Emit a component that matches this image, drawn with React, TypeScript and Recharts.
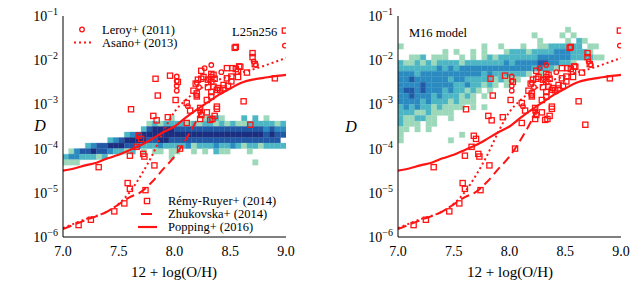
import React from "react";
import { ComposedChart, XAxis, YAxis, Scatter, Line, ReferenceArea } from "recharts";

const FONT = "Liberation Serif, DejaVu Serif, serif";
const RED = "#ff1414";

// axes: x = 12 + log(O/H), y = log10(D)
const xTicks = [7.0, 7.5, 8.0, 8.5, 9.0];
const yTicks = [-6, -5, -4, -3, -2, -1];
const yMinorTicks: number[] = [];
for (let n = -6; n < -1; n++) for (let k = 2; k <= 9; k++) yMinorTicks.push(n + Math.log10(k));

// Rémy-Ruyer+ (2014) [12+log(O/H), log D]
const remyRuyer = [
  [7.14, -5.73], [7.25, -5.61], [7.46, -5.42], [7.55, -5.24], [7.58, -4.78], [7.6, -4.91],
  [7.74, -4.94], [7.32, -4.42], [7.6, -4.16], [7.72, -4.12], [7.73, -4.18], [7.82, -4.38],
  [8.05, -4.0], [7.66, -3.96], [7.68, -3.71], [7.7, -3.78], [7.61, -3.11], [7.81, -3.26],
  [7.84, -3.36], [7.94, -3.29], [8.11, -3.42], [8.68, -3.46], [8.62, -2.93], [8.11, -2.97],
  [8.14, -3.14], [8.23, -3.08], [8.24, -3.24], [8.23, -3.33], [8.29, -3.18], [8.32, -3.35],
  [8.34, -3.33], [8.36, -3.26], [8.38, -3.1], [7.83, -2.42], [7.96, -2.35], [8.03, -2.49],
  [7.85, -2.8], [8.01, -2.9], [8.17, -2.69], [8.2, -2.82], [8.21, -2.44], [8.24, -2.42],
  [8.24, -2.24], [8.33, -2.31], [8.33, -2.38], [8.3, -2.44], [8.36, -2.42], [8.35, -2.6],
  [8.39, -2.63], [8.44, -2.56], [8.48, -2.58], [8.51, -2.48], [8.47, -2.41], [8.51, -2.37],
  [8.55, -2.2], [8.52, -2.18], [8.57, -2.26], [8.57, -2.38], [8.58, -2.14], [8.47, -2.18],
  [8.54, -1.72], [8.55, -1.7], [8.7, -1.84], [8.7, -1.93], [8.65, -2.28], [8.9, -2.41],
  [8.2, -2.75], [8.33, -2.82], [8.29, -2.9], [8.33, -2.72], [8.38, -2.67], [8.3, -2.61],
  [8.38, -3.05], [8.99, -1.33], [8.19, -2.53], [8.26, -2.38], [8.35, -2.33], [8.33, -2.49],
  [8.41, -2.68], [8.44, -2.64], [8.59, -2.15], [8.72, -2.09],
].map(([x, y]) => ({ x, y }));

// Leroy+ (2011)
const leroy = [
  [8.02, -2.37], [8.02, -2.47], [8.02, -2.58], [8.02, -2.69], [8.12, -3.04], [8.2, -2.51],
  [8.22, -2.61], [8.2, -2.8], [8.27, -2.18], [8.33, -2.11], [8.42, -2.27], [8.31, -2.43],
  [8.71, -2.03], [8.73, -2.11], [8.99, -1.67], [8.23, -3.17],
].map(([x, y]) => ({ x, y }));

const asano = [
  [7.0, -5.8], [7.2, -5.6], [7.4, -5.42], [7.5, -5.25], [7.6, -4.98], [7.7, -4.6], [7.8, -4.15],
  [7.9, -3.62], [8.0, -3.17], [8.1, -2.9], [8.2, -2.7], [8.3, -2.55], [8.4, -2.44], [8.5, -2.36],
  [8.6, -2.28], [8.7, -2.21], [8.8, -2.13], [8.9, -2.04], [9.0, -1.95],
].map(([x, y]) => ({ x, y }));

const zhukovska = [
  [7.0, -5.82], [7.2, -5.62], [7.4, -5.42], [7.5, -5.26], [7.6, -5.1], [7.7, -4.98], [7.8, -4.75],
  [7.9, -4.46], [8.0, -4.18], [8.1, -3.8], [8.2, -3.35], [8.25, -3.08],
].map(([x, y]) => ({ x, y }));

const popping = [
  [7.0, -4.5], [7.1, -4.45], [7.2, -4.38], [7.3, -4.32], [7.4, -4.22], [7.5, -4.14], [7.6, -4.03],
  [7.7, -3.92], [7.8, -3.78], [7.9, -3.63], [8.0, -3.5], [8.1, -3.3], [8.2, -3.12], [8.3, -2.95],
  [8.4, -2.78], [8.5, -2.64], [8.6, -2.51], [8.7, -2.44], [8.8, -2.4], [8.9, -2.36], [9.0, -2.33],
].map(([x, y]) => ({ x, y }));

// 2D histograms: 40 bins of 0.05 in x, bins of 0.125 dex in D (row 0 starts at D = 0.1)
const X_BIN = 0.05;
const Y_BIN = 0.125;
const heatColors = ["", "#9dd8bb", "#4db6c5", "#2b8bc1", "#2259a6", "#1c2e80"];

const l25TopRow = 18;
const l25Rows = [
  "...................1.....1221...2.2.1...",
  "...............1212222121221212112222212",
  "..............24555544444444444444443433",
  "...........23455555555555555555555554544",
  "........2345555445544444444444444444444",
  "....234455544322232222312223223212212222",
  ".134454432212.1.11.11..1.1.211...1......",
  "23322212...........1",
  "111...............................1",
];

const m16TopRow = 2;
const m16Rows = [
  "..............................1",
  "........................1....1.1",
  ".........................1....1.21",
  "1..............1..1...1..11222222.11",
  "........1.1..1.1...1222122223332221",
  "..112.111..1.1.1212222222333333222211",
  "21121212222122222223233334433221",
  "22222223232333333333333323221",
  "333233333333333232222221.1",
  "3343333332332222212111",
  "333343333322322121.1",
  "344343332322121.1",
  "33433323222121.1",
  "33332322212111",
  "232322121111.1.1",
  "2221121111",
  "2112211..1",
  "2111.11",
  "11.1.1",
  "1..........1",
  "1........1",
];

function toCells(rows: string[], top: number) {
  const out: { x1: number; x2: number; y1: number; y2: number; level: number }[] = [];
  rows.forEach((row, i) => {
    const k = top + i;
    row.slice(0, 40).split("").forEach((ch, c) => {
      if (ch === ".") return;
      out.push({
        x1: 7 + c * X_BIN,
        x2: 7 + (c + 1) * X_BIN,
        y1: -1 - (k + 1) * Y_BIN,
        y2: -1 - k * Y_BIN,
        level: Number(ch),
      });
    });
  });
  return out;
}

const XTick = (p: any) => (
  <text x={p.x} y={p.y} dy="0.71em" textAnchor="middle" fontFamily={FONT} fontSize={14} fill="#000">
    {p.payload.value.toFixed(1)}
  </text>
);

const YTick = (p: any) => (
  <text x={p.x} y={p.y} dy="0.35em" textAnchor="end" fontFamily={FONT} fontSize={14} fill="#000">
    10
    <tspan dy={-6} fontSize={10}>
      {"\u2212" + Math.abs(p.payload.value)}
    </tspan>
  </text>
);

const square = (p: any) => (
  <rect x={p.cx - 2.6} y={p.cy - 2.6} width={5.2} height={5.2} fill="none" stroke={RED} strokeWidth={1.3} />
);
const circle = (p: any) => <circle cx={p.cx} cy={p.cy} r={2.3} fill="none" stroke={RED} strokeWidth={1.3} />;

function Panel({ left, axisW, rightM, rows, top }: { left: number; axisW: number; rightM: number; rows: string[]; top: number }) {
  const cells = toCells(rows, top);
  const tickStroke = { stroke: "#000", strokeWidth: 0.8 };
  return (
    <div style={{ position: "absolute", left, top: 0 }}>
      <ComposedChart width={320} height={289} margin={{ top: 16, right: rightM, bottom: 0, left: 0 }}>
        <XAxis xAxisId="x" type="number" dataKey="x" domain={[7, 9]} ticks={xTicks} interval={0} allowDataOverflow
          height={52} tickLine={false} tickSize={0} tickMargin={9} axisLine={{ stroke: "#000" }} tick={XTick} />
        <XAxis xAxisId="xb" type="number" domain={[7, 9]} ticks={xTicks} interval={0} allowDataOverflow mirror
          height={0} tick={false} tickSize={4} axisLine={false} tickLine={tickStroke} />
        <XAxis xAxisId="xt" orientation="top" type="number" domain={[7, 9]} ticks={xTicks} interval={0} allowDataOverflow mirror
          height={0} tick={false} tickSize={4} axisLine={{ stroke: "#000" }} tickLine={tickStroke} />
        <YAxis yAxisId="y" type="number" dataKey="y" domain={[-6, -1]} ticks={yTicks} interval={0} allowDataOverflow
          width={axisW} tickLine={false} tickSize={0} tickMargin={5} axisLine={{ stroke: "#000" }} tick={YTick} />
        <YAxis yAxisId="yl" type="number" domain={[-6, -1]} ticks={yTicks} interval={0} allowDataOverflow mirror
          width={0} tick={false} tickSize={4} axisLine={false} tickLine={tickStroke} />
        <YAxis yAxisId="ylm" type="number" domain={[-6, -1]} ticks={yMinorTicks} interval={0} allowDataOverflow mirror
          width={0} tick={false} tickSize={2} axisLine={false} tickLine={tickStroke} />
        <YAxis yAxisId="yr" orientation="right" type="number" domain={[-6, -1]} ticks={yTicks} interval={0} allowDataOverflow mirror
          width={0} tick={false} tickSize={4} axisLine={{ stroke: "#000" }} tickLine={tickStroke} />
        <YAxis yAxisId="yrm" orientation="right" type="number" domain={[-6, -1]} ticks={yMinorTicks} interval={0} allowDataOverflow mirror
          width={0} tick={false} tickSize={2} axisLine={false} tickLine={tickStroke} />
        {cells.map((c, i) => (
          <ReferenceArea key={i} xAxisId="x" yAxisId="y" x1={c.x1} x2={c.x2} y1={c.y1} y2={c.y2}
            fill={heatColors[c.level]} fillOpacity={1} stroke={heatColors[c.level]} strokeWidth={0.3} ifOverflow="hidden" />
        ))}
        <Line data={asano} xAxisId="x" yAxisId="y" dataKey="y" type="monotone" stroke={RED} strokeWidth={2}
          strokeDasharray="2 3" dot={false} isAnimationActive={false} />
        <Line data={zhukovska} xAxisId="x" yAxisId="y" dataKey="y" type="monotone" stroke={RED} strokeWidth={2}
          strokeDasharray="9 5" dot={false} isAnimationActive={false} />
        <Line data={popping} xAxisId="x" yAxisId="y" dataKey="y" type="monotone" stroke={RED} strokeWidth={2.2}
          dot={false} isAnimationActive={false} />
        <Scatter data={remyRuyer} xAxisId="x" yAxisId="y" dataKey="y" shape={square} isAnimationActive={false} />
        <Scatter data={leroy} xAxisId="x" yAxisId="y" dataKey="y" shape={circle} isAnimationActive={false} />
      </ComposedChart>
    </div>
  );
}

const Txt = ({ x, y, children, size = 12.5, center = false, italic = false }: any) => (
  <div style={{
    position: "absolute", left: x, top: y - 6, height: 12, lineHeight: "12px", fontSize: size, fontFamily: FONT,
    whiteSpace: "nowrap", color: "#000", fontStyle: italic ? "italic" : "normal",
    transform: center ? "translateX(-50%)" : undefined,
  }}>{children}</div>
);

export default function App() {
  return (
    <div style={{ position: "absolute", left: 0, top: 0, width: 640, height: 289, background: "#fff", overflow: "hidden" }}>
      <Panel left={0} axisW={63} rightM={34} rows={l25Rows} top={l25TopRow} />
      <Panel left={320} axisW={78} rightM={19} rows={m16Rows} top={m16TopRow} />

      <svg width={640} height={289} style={{ position: "absolute", left: 0, top: 0, pointerEvents: "none" }}>
        <circle cx={82} cy={29.5} r={2.3} fill="none" stroke={RED} strokeWidth={1.3} />
        <line x1={74} y1={42.5} x2={93} y2={42.5} stroke={RED} strokeWidth={2} strokeDasharray="2 3" />
        <rect x={144.4} y={198.4} width={5.2} height={5.2} fill="none" stroke={RED} strokeWidth={1.3} />
        <line x1={141} y1={214} x2={152} y2={214} stroke={RED} strokeWidth={2} />
        <line x1={138} y1={227} x2={157} y2={227} stroke={RED} strokeWidth={2.2} />
      </svg>

      <Txt x={102} y={29.5}>Leroy+ (2011)</Txt>
      <Txt x={102} y={42.5}>Asano+ (2013)</Txt>
      <Txt x={232} y={32}>L25n256</Txt>
      <Txt x={168} y={201}>Rémy-Ruyer+ (2014)</Txt>
      <Txt x={168} y={214}>Zhukovska+ (2014)</Txt>
      <Txt x={168} y={227}>Popping+ (2016)</Txt>
      <Txt x={409} y={33}>M16 model</Txt>

      <Txt x={40} y={126} size={16} center italic>D</Txt>
      <Txt x={351} y={127} size={16} center italic>D</Txt>
      <Txt x={174} y={272} size={15} center>12 + log(O/H)</Txt>
      <Txt x={510} y={272} size={15} center>12 + log(O/H)</Txt>
    </div>
  );
}
